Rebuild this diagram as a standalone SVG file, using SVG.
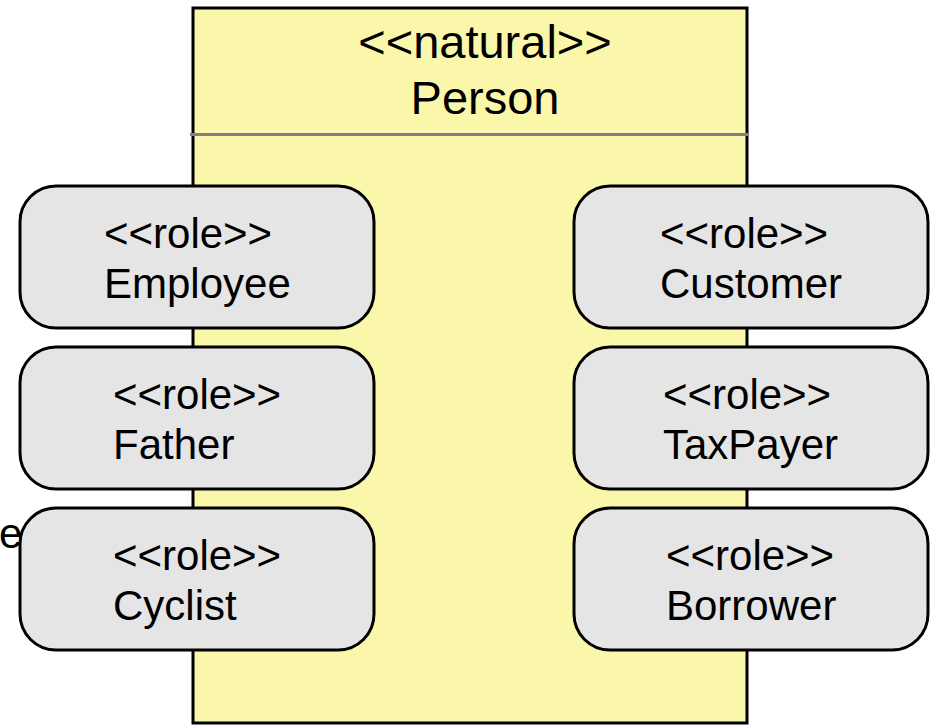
<svg xmlns="http://www.w3.org/2000/svg" width="936" height="725" viewBox="0 0 936 725">
  <style>
    text { font-family: "Liberation Sans", Arial, sans-serif; fill: #000; }
    .title { font-size: 47px; text-anchor: middle; }
    .role-text { font-size: 42px; }
    .role { fill: #e5e5e5; stroke: #000; stroke-width: 3; }
    .natural { fill: #faf7aa; stroke: #000; stroke-width: 3; }
  </style>
  <rect width="936" height="725" fill="#fff"/>

  <!-- natural type: Person -->
  <g id="person">
    <rect class="natural" x="193" y="8" width="554" height="715"/>
    <line x1="190" y1="134.5" x2="748" y2="134.5" stroke="#808080" stroke-width="3"/>
    <text class="title" x="485" y="58">&lt;&lt;natural&gt;&gt;</text>
    <text class="title" x="485" y="114">Person</text>
  </g>

  <!-- stray label fragment at left edge -->
  <text class="role-text" x="-1" y="548">e</text>

  <!-- roles, left column -->
  <g id="employee">
    <rect class="role" x="20" y="186" width="354" height="142" rx="36"/>
    <text class="role-text" x="104" y="248">&lt;&lt;role&gt;&gt;</text>
    <text class="role-text" x="104" y="298">Employee</text>
  </g>
  <g id="father">
    <rect class="role" x="20" y="347" width="354" height="142" rx="36"/>
    <text class="role-text" x="113" y="409">&lt;&lt;role&gt;&gt;</text>
    <text class="role-text" x="113" y="459">Father</text>
  </g>
  <g id="cyclist">
    <rect class="role" x="20" y="508" width="354" height="142" rx="36"/>
    <text class="role-text" x="113" y="570">&lt;&lt;role&gt;&gt;</text>
    <text class="role-text" x="113" y="620">Cyclist</text>
  </g>

  <!-- roles, right column -->
  <g id="customer">
    <rect class="role" x="574" y="186" width="354" height="142" rx="36"/>
    <text class="role-text" x="660" y="248">&lt;&lt;role&gt;&gt;</text>
    <text class="role-text" x="660" y="298">Customer</text>
  </g>
  <g id="taxpayer">
    <rect class="role" x="574" y="347" width="354" height="142" rx="36"/>
    <text class="role-text" x="663" y="409">&lt;&lt;role&gt;&gt;</text>
    <text class="role-text" x="663" y="459">TaxPayer</text>
  </g>
  <g id="borrower">
    <rect class="role" x="574" y="508" width="354" height="142" rx="36"/>
    <text class="role-text" x="666" y="570">&lt;&lt;role&gt;&gt;</text>
    <text class="role-text" x="666" y="620">Borrower</text>
  </g>

  <!-- no connectors in this diagram -->
  <g id="connectors"/>
</svg>
